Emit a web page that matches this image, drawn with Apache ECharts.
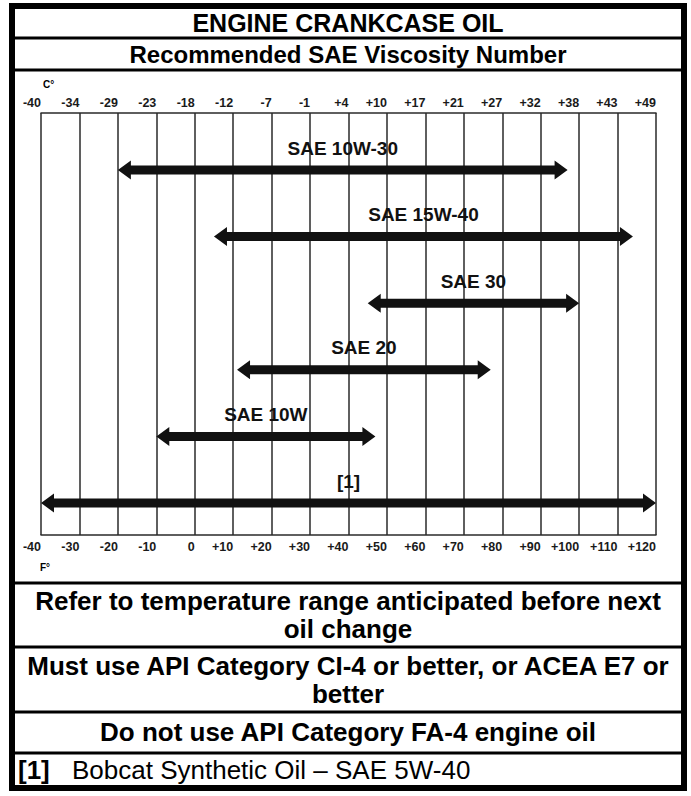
<!DOCTYPE html>
<html>
<head>
<meta charset="utf-8">
<title>Engine crankcase oil</title>
<script src="https://cdn.jsdelivr.net/npm/echarts@6/dist/echarts.min.js"></script>
<style>
  html, body { margin: 0; padding: 0; background: #fff; }
  #chart { width: 691px; height: 796px; }
</style>
</head>
<body>
<div id="chart"></div>
<script>
// oil grades from top to bottom, and the span of each arrow in deg F
const oilNames = ['SAE 10W-30', 'SAE 15W-40', 'SAE 30', 'SAE 20', 'SAE 10W', '[1]'];
const lowF = [-20, 5, 45, 11, -10, -40];
const highF = [97, 114, 100, 77, 47, 120];

// tick labels, one per grid line (the Celsius row is printed as-is)
const fahrenheitTicks = ['-40', '-30', '-20', '-10', '0', '+10', '+20', '+30', '+40',
  '+50', '+60', '+70', '+80', '+90', '+100', '+110', '+120'];
const celsiusTicks = ['-40', '-34', '-29', '-23', '-18', '-12', '-7', '-1', '+4',
  '+10', '+17', '+21', '+27', '+32', '+38', '+43', '+49'];

const FONT = '"Liberation Sans", Arial, sans-serif';
const lineColor = '#2a2a2a';

const chart = echarts.init(document.getElementById('chart'), null, { renderer: 'svg' });

function tickIndex (v) {
  return Math.round((v + 40) / 10);
}

// double headed arrow + its name above it
function renderArrow (params, api) {
  const row = api.value(0);
  const a = api.coord([api.value(1), row]);
  const b = api.coord([api.value(2), row]);
  const y = a[1];
  const t = 4.5; // half shaft
  const hh = 9.5; // half head
  const hl = 13; // head length
  return {
    type: 'group',
    children: [
      {
        type: 'polygon',
        shape: {
          points: [
            [a[0], y], [a[0] + hl, y - hh], [a[0] + hl, y - t], [b[0] - hl, y - t],
            [b[0] - hl, y - hh], [b[0], y], [b[0] - hl, y + hh], [b[0] - hl, y + t],
            [a[0] + hl, y + t], [a[0] + hl, y + hh]
          ]
        },
        style: { fill: '#111' }
      },
      {
        type: 'text',
        style: {
          text: oilNames[params.dataIndex],
          x: (a[0] + b[0]) / 2,
          y: y - 22,
          align: 'center',
          verticalAlign: 'middle',
          font: 'bold 19px ' + FONT,
          fill: '#111'
        }
      }
    ]
  };
}

function text (str, x, y, size, bold, align) {
  return {
    type: 'text',
    style: {
      text: str,
      x: x,
      y: y,
      align: align || 'center',
      verticalAlign: 'middle',
      font: (bold ? 'bold ' : '') + size + 'px ' + FONT,
      fill: '#000'
    }
  };
}

function hline (y) {
  return {
    type: 'line',
    shape: { x1: 15, y1: y, x2: 681, y2: y },
    style: { stroke: '#000', lineWidth: 3 }
  };
}

const option = {
  backgroundColor: '#fff',
  animation: false,
  grid: { left: 41, top: 113, width: 615, height: 422, outerBoundsMode: 'none' },
  xAxis: [
    {
      type: 'value',
      position: 'bottom',
      min: -40,
      max: 120,
      interval: 10,
      axisLine: { show: true, onZero: false, lineStyle: { color: lineColor, width: 1.5 } },
      axisTick: { show: false },
      splitLine: { show: true, lineStyle: { color: lineColor, width: 1.5 } },
      axisLabel: {
        showMinLabel: true,
        showMaxLabel: true,
        margin: 5,
        align: 'right',
        color: '#1a1a1a',
        fontWeight: 'bold',
        fontSize: 12.5,
        fontFamily: FONT,
        formatter: (v) => fahrenheitTicks[tickIndex(v)]
      }
    },
    {
      type: 'value',
      position: 'top',
      min: -40,
      max: 120,
      interval: 10,
      axisLine: { show: true, onZero: false, lineStyle: { color: lineColor, width: 1.5 } },
      axisTick: { show: false },
      splitLine: { show: false },
      axisLabel: {
        showMinLabel: true,
        showMaxLabel: true,
        margin: 4,
        align: 'right',
        color: '#1a1a1a',
        fontWeight: 'bold',
        fontSize: 12.5,
        fontFamily: FONT,
        formatter: (v) => celsiusTicks[tickIndex(v)]
      }
    }
  ],
  yAxis: { type: 'value', min: -0.856, max: 5.48, inverse: true, show: false },
  series: [
    {
      type: 'custom',
      xAxisIndex: 0,
      yAxisIndex: 0,
      clip: false,
      renderItem: renderArrow,
      data: oilNames.map((n, i) => [i, lowF[i], highF[i]])
    }
  ],
  graphic: [
    {
      type: 'rect',
      shape: { x: 12, y: 6, width: 672, height: 782 },
      style: { fill: 'none', stroke: '#000', lineWidth: 6 }
    },
    hline(38),
    hline(70),
    hline(583),
    hline(647),
    hline(712),
    hline(753),
    text('ENGINE CRANKCASE OIL', 348, 23, 25, true),
    text('Recommended SAE Viscosity Number', 348, 54, 24, true),
    text('C°', 43, 84, 10, true, 'left'),
    text('F°', 40, 567, 10, true, 'left'),
    text('Refer to temperature range anticipated before next', 348, 601, 26, true),
    text('oil change', 348, 629, 26, true),
    text('Must use API Category CI-4 or better, or ACEA E7 or', 348, 666, 26, true),
    text('better', 348, 694, 26, true),
    text('Do not use API Category FA-4 engine oil', 348, 732, 26, true),
    text('[1]', 18, 770, 26, true, 'left'),
    text('Bobcat Synthetic Oil – SAE 5W-40', 72, 770, 26, false, 'left')
  ]
};

chart.setOption(option);
</script>
</body>
</html>
